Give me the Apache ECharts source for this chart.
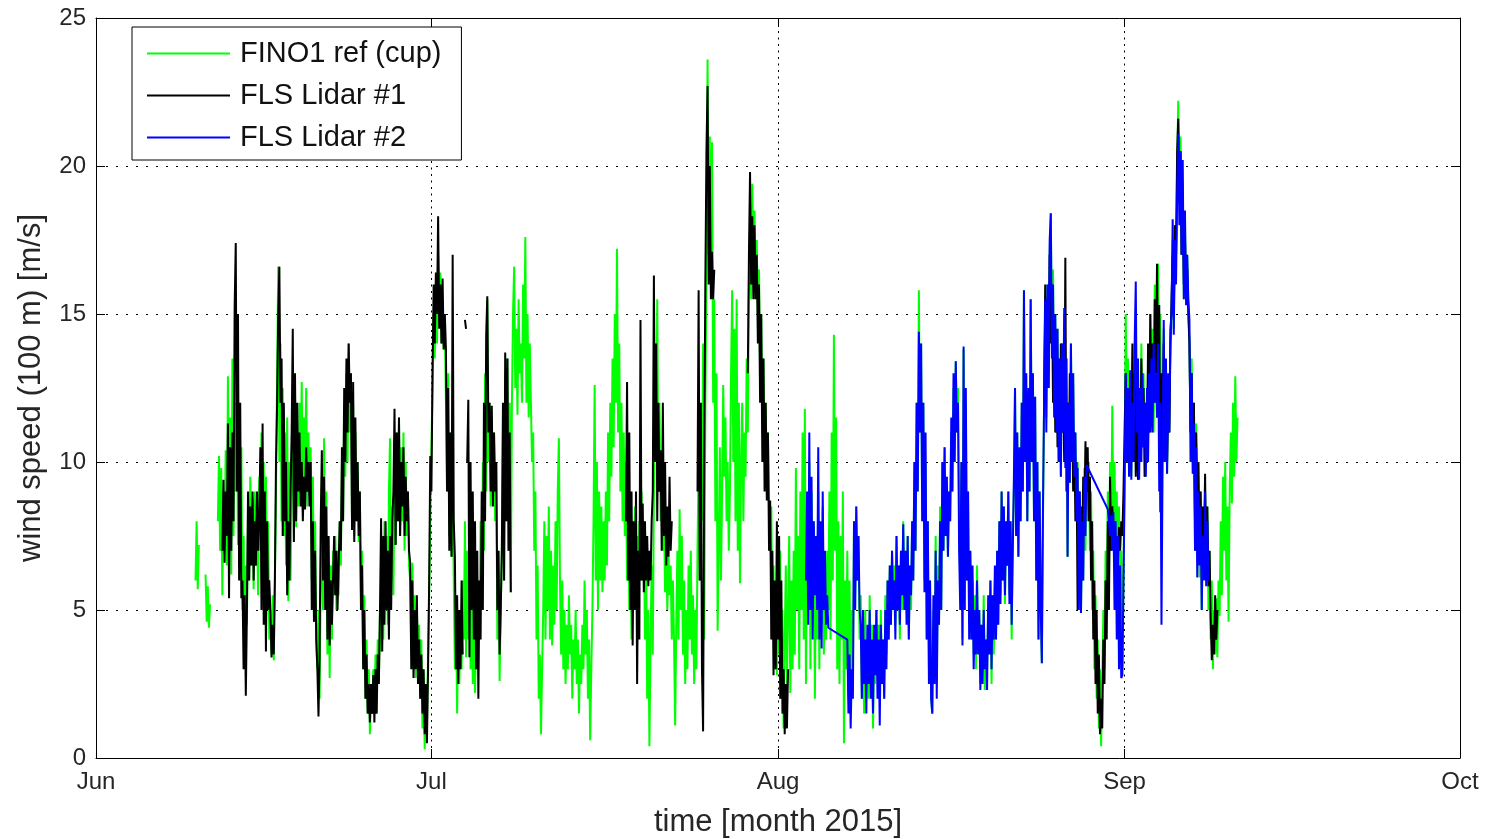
<!DOCTYPE html>
<html>
<head>
<meta charset="utf-8">
<script src="https://cdn.jsdelivr.net/npm/echarts@6/dist/echarts.min.js"></script>
<style>html,body{margin:0;padding:0;background:#fff;}#chart{width:1491px;height:839px;}</style>
</head>
<body>
<div id="chart"></div>
<script>
// x values are days since 1 June 2015 (sampled every 0.1 day inside each segment)
const monthTicks = [0, 30, 61, 92, 122];
const monthLabels = ['Jun', 'Jul', 'Aug', 'Sep', 'Oct'];
const yTicks = [0, 5, 10, 15, 20, 25];
const seriesNames = ['FINO1 ref (cup)', 'FLS Lidar #1', 'FLS Lidar #2'];

// FINO1 reference cup anemometer, wind speed at 100 m [m/s]
const fino1 = [
 [8.9,[6.0,8.0,5.7,7.2,null]],
 [9.8,[6.2,4.6,5.8,4.4,5.2,null]],
 [10.9,[8.0,10.2,7.0,9.8,5.5,9.0,7.2,10.4,6.5,12.9,8.0,11.5,6.2,13.5,7.5]],
 [12.4,[12.0,9.0,13.0,7.2,11.0,8.0,10.5,5.0,7.5,3.0,6.5,4.5]],
 [13.6,[8.5,6.0,9.5,6.5,8.8,5.7,9.0,6.5,8.0,5.5,9.5,7.0]],
 [14.8,[11.0,6.0,10.0,4.5,9.5,5.5,8.0,4.0]],
 [15.6,[5.0,3.5,5.5,3.3,6.0,9.0,13.0,16.6,10.0,14.0]],
 [16.6,[8.0,12.5,7.5,11.0,6.5,11.5,5.3,10.0,6.0]],
 [17.5,[9.0,13.0,8.0,12.5,7.8,11.0]],
 [18.1,[8.5,12.0,9.0,12.7,8.4,11.5,9.5,12.5,8.5,11.0,9.0,10.5]],
 [19.3,[6.0,9.5,4.6,8.0,4.0,3.0,5.0,2.0]],
 [20.1,[6.0,9.5,5.0,10.8,6.0,9.0,3.5,7.5,2.7,6.5,4.0,7.0]],
 [21.3,[5.5,7.5,5.0,7.0,5.5]],
 [21.8,[8.0,6.5,10.0,8.0,12.0,9.5,13.0,10.0,14.0,11.0,13.0,8.0]],
 [23.0,[12.0,7.5,11.0,8.0,10.0,7.3,9.0,5.5,7.0]],
 [23.9,[3.0,5.5,2.0,4.0,1.5,3.0,0.8,2.5,1.5,3.0,1.8,3.5,1.5,4.0,2.5,5.0]],
 [25.5,[3.6,7.0,4.0,8.0,5.0,7.5,4.5,9.0,10.8,6.0,8.5,5.5]],
 [26.7,[9.5,7.2,11.0,8.0,11.5,7.5,10.5,8.0,11.0,7.0,10.0,7.5,9.0,6.5]],
 [28.1,[6.0,3.5,6.6,3.0,5.5,2.7,5.0,3.5,4.5]],
 [29.0,[2.0,4.0,1.0,3.0,0.3,2.5,1.0,3.5,5.5,8.0,10.5]],
 [30.1,[12.5,15.0,13.5,16.0,14.0,17.0,15.0,16.4,14.0,15.5,13.8,14.5]],
 [31.3,[12.0,9.0,13.0,7.5,11.0,6.8,9.5]],
 [32.0,[6.0,3.0,5.5,1.5,4.5,2.5,5.0,3.0,6.0]],
 [32.9,[4.0,8.0,3.4,7.0,4.0,9.0,3.0,7.5]],
 [33.7,[2.5,5.0,2.2,4.5,3.0,6.0,4.0,8.0,5.0,10.0,7.0,13.0,9.0,15.5]],
 [35.1,[10.0,12.0,8.5,11.5,9.0,11.0,8.0,10.0,4.0,7.0,2.6,5.0]],
 [36.3,[7.0,11.0,6.0,13.0,8.0,13.5,7.0,12.0,5.6]],
 [37.2,[12.0,15.0,16.6,12.5,14.5,11.6,15.5,13.0,14.0,12.0,16.0,13.5,17.6,12.0,15.0,11.5,14.0,12.0]],
 [39.0,[10.0,11.0,7.0,9.0,4.0,6.5,2.0,3.5,0.8,3.0]],
 [40.0,[5.0,8.0,4.0,7.5,5.0,8.5,4.0,7.0,3.8,6.5,4.5,8.0,5.0,9.0,10.8,6.0]],
 [41.6,[3.5,6.0,3.0,5.0,2.5,4.5,3.0,5.5,3.5,4.5,2.0,4.0,3.0,5.0,2.5,4.0,1.5,3.5,2.5,4.5,3.0,6.0,3.5,5.0,2.0,4.0,0.6,3.0,5.0]],
 [44.5,[8.0,12.6,6.0,10.0,5.0,9.0]],
 [45.1,[6.0,8.5,5.6,8.0,6.0,9.0,6.5,11.0,8.0]],
 [46.0,[12.0,9.5,13.5,10.5,15.0,12.0,17.2,11.0,14.0,9.0]],
 [47.0,[12.0,8.0,11.0,7.5,10.0,6.0,9.0,5.0,8.0,4.0,7.0]],
 [48.1,[6.0,8.5,5.0,7.5,4.5,8.0,6.0,9.0]],
 [48.9,[6.0,8.0,4.0,7.0,2.0,5.0,0.4,4.0,6.5,3.5]],
 [49.9,[9.0,14.0,10.0,15.5,9.0,12.0]],
 [50.5,[8.0,10.0,7.0,8.4,5.6,7.5,5.0,7.0,5.5,6.5,4.0,6.0]],
 [51.7,[4.0,1.1,4.5,7.0,4.0,8.4,5.0,7.5,3.5,6.0,2.5,5.0,3.0,6.5,4.0,7.0,3.5,5.5,2.5,5.0,3.0]],
 [53.8,[7.0,10.0,6.0,11.0,8.0,14.0,4.0,12.0]],
 [54.6,[16.0,23.6,17.0,21.0,15.8,20.8,12.0,15.5,8.0,13.0,4.3]],
 [55.7,[7.0,10.5,6.0,9.0,12.6,9.5,11.5,8.0,10.0,7.0,9.0,13.0]],
 [56.9,[15.8,10.0,14.5,8.0,15.5,7.0,12.0,5.9,10.0]],
 [57.8,[12.0,8.0,11.0,9.5,13.5,11.0]],
 [58.4,[16.0,18.0,15.5,19.4,16.0,18.5,15.5,17.5,15.0,16.5]],
 [59.4,[13.0,15.0,11.0,13.5,10.0,12.0,9.0,11.0,8.7]],
 [60.3,[7.0,8.5,4.0,6.5,3.0,5.5,2.8]],
 [61.0,[6.0,3.5,7.0,2.0,5.0,1.0,4.0,6.5,2.5]],
 [61.9,[5.0,7.5,2.2,6.0,3.0,7.0,3.5,9.8,5.0,7.5,3.0]],
 [63.0,[9.0,5.0,11.0,4.0,11.8,2.5,8.5]],
 [63.7,[5.0,10.0,3.0,9.0,5.0,8.0,2.0,7.0]],
 [64.5,[4.0,9.0,3.0,7.0,4.5,8.5,3.5,6.0,4.0,7.0]],
 [65.5,[5.0,9.0,4.0,11.0,6.0,14.3,7.0,11.5,3.0,8.0,2.5,7.5,4.0,9.0,0.5,6.0,3.0]],
 [67.2,[7.0,2.0,6.0,1.5,5.0,3.0]],
 [67.8,[8.0,5.0,8.5,6.0,7.5,4.0]],
 [68.4,[5.5,2.0,4.5,1.5,5.0,2.5,4.0,2.0,5.5,3.0,4.5,1.0,4.0,2.5,5.0,3.0,4.5,2.5,5.0,3.0,4.0,2.0,5.5,3.5]],
 [70.8,[6.0,4.0,6.5,4.5,7.0,5.0,6.5,4.5,7.5,5.5,6.5,4.0,7.0,5.0,8.0,6.0,7.0,5.0,7.5,4.0,6.5]],
 [72.9,[5.0,8.0,6.0,10.0,7.0,12.0,9.0,15.8,11.0,14.0,8.0,12.0,6.0]],
 [74.2,[10.0,4.0,8.0,3.0,6.0,2.0,1.5,5.0,3.0,7.5,2.5,6.5,4.5,8.5,5.0,10.0]],
 [75.8,[7.0,10.5,7.5,9.5,6.8,9.0,8.0,11.0,9.0,12.5,10.0,13.4]],
 [77.0,[11.0,12.5,8.0,6.0,10.0,4.0,13.8,5.0,12.0,6.0,9.0,4.5]],
 [78.2,[7.0,4.0,6.0,3.5,5.5,3.0,6.5,4.0,5.0,2.5,4.5,3.0,5.5,2.3,4.0,3.0,5.0,4.0,6.0,2.5,5.5,3.5,6.0,4.0,7.0,4.5,8.0]],
 [80.9,[5.5,9.0,6.0,8.5,5.2,8.0,6.5,9.0,5.5,8.0,4.0,7.5]],
 [82.1,[9.0,12.5,7.5,11.0,6.8,10.0,8.0,12.0,9.0]],
 [83.0,[15.8,10.0,13.0,8.0,12.0,9.0,15.5,10.0,13.0]],
 [83.9,[8.0,12.2,6.0,10.0,4.0,9.0,5.0,3.2,8.0]],
 [84.8,[12.0,15.0,11.5,16.0,13.0,17.0,18.4,14.0,16.5,12.0,15.0,11.0]],
 [86.0,[14.5,10.0,13.5,9.5,14.0,11.0,15.0,10.0,13.5,6.8,12.0,9.3,14.0,10.0,13.0,9.5,11.0,8.0]],
 [87.8,[10.0,5.0,9.0,4.9,8.0,6.0,9.8,7.0,10.5]],
 [88.7,[8.0,10.0,7.0,9.0,5.0,7.0,3.0,5.5,2.0,4.0,1.0,3.0,0.4,2.5,5.0,3.0,7.0,5.0]],
 [90.5,[9.0,6.0,10.0,7.5,11.9,8.0,10.0,7.0,9.0,6.0,8.5,4.0,7.0,3.0]],
 [91.9,[6.0,10.0,15.0,12.0,13.5,10.0,12.5,9.5,13.0]],
 [92.8,[11.0,14.0,10.0,13.0,9.4,12.5,10.0,14.0,11.0,13.0,9.5,12.0,10.0,13.5,11.0,15.0]],
 [94.4,[12.0,14.5,11.0,16.0,12.0,15.0,16.7,13.0,15.0,9.0]],
 [95.4,[12.0,14.5,10.0,13.0,9.6,12.5,11.0,14.0]],
 [96.2,[15.0,17.5,14.5,18.0,17.0,20.0,22.2,19.0,21.0]],
 [97.1,[17.0,19.5,15.5,18.0,16.0,17.0,15.3]],
 [97.8,[14.0,11.0,13.5,9.6]],
 [98.2,[12.0,7.0,11.3,8.0,10.0,6.1,9.0,5.0,8.0]],
 [99.1,[7.0,9.0,6.0,8.5,5.0,7.0]],
 [99.7,[4.0,6.0,3.0,5.0,3.5,5.4,3.4]],
 [100.4,[6.0,4.8,8.0,5.5,9.5,7.0,10.0,6.0,8.5,4.6]],
 [101.4,[9.0,11.0,8.6,12.0,9.5,12.9,10.0,11.5]]
];

// FLS Lidar #1
const lidar1 = [
 [11.3,[7.0,9.4,6.6,9.0,7.5,11.3,5.4,10.5,7.0,11.0,8.0]],
 [12.4,[15.2,17.4,9.0,15.0,6.0,12.0,5.4]],
 [13.1,[6.0,3.0,5.5,2.1,5.0]],
 [13.6,[9.0,6.0,8.5,6.5,9.0,6.0,8.0,6.5,9.0,7.0,8.0]],
 [14.7,[10.5,5.0,11.3,4.5,9.0,3.6,8.0,5.0,6.0]],
 [15.6,[4.9,3.4,4.5,3.5]],
 [16.0,[6.0,10.0,12.0,15.0,16.6,12.0]],
 [16.6,[13.5,7.5,12.0,8.0,10.0,5.5]],
 [17.2,[8.0,6.0,9.0]],
 [17.5,[11.0,14.5,7.3,13.0,8.0,12.0]],
 [18.1,[9.0,11.0,8.5,10.0,8.0,9.5,8.4,10.5,9.0,10.0,8.5]],
 [19.2,[10.0,5.0,8.0,4.6,7.0,4.0]],
 [19.8,[3.0,1.4,3.5]],
 [20.1,[8.0,10.4,6.0,9.5,5.0,8.5,4.0,7.5,3.8,6.0,4.5]],
 [21.2,[6.0,7.5,5.5,7.0,5.0,6.5]],
 [21.8,[8.0,7.0,10.5,8.0,12.5,10.0,13.5,11.0,14.0,12.0,13.0,7.7]],
 [23.0,[12.7,7.3,11.5,8.0,10.0,7.5,9.0,5.0,6.5]],
 [23.9,[3.0,5.0,2.0,3.5,1.5,2.5,1.2,2.5,1.5,2.8,1.2,3.0,1.5,3.5,2.5]],
 [25.4,[5.0,8.1,3.6,7.5,4.5,8.0,5.0,7.0,4.0,7.5,5.0,8.0]],
 [26.6,[9.0,11.8,7.2,11.0,8.0,11.5,7.5,10.0,8.5,10.5,7.5,9.5,8.0,9.0,7.0]],
 [28.1,[6.6,3.0,6.0,2.7,5.0,3.0,5.5,2.5,4.0]],
 [29.0,[2.0,3.5,1.5,3.0,0.8,2.5,0.5,3.0,6.0,10.2,9.0]],
 [30.1,[13.0,16.0,14.0,16.4,15.0,18.3,14.5,16.0,14.0,16.2,13.8,15.0]],
 [31.3,[13.8,9.0,12.5,7.0,11.0,6.8,17.0,8.0]],
 [32.1,[6.8,3.0,5.5,2.5,5.0,3.0,6.0,3.5,null]],
 [33.0,[14.8,14.5,null]],
 [33.2,[10.0,12.1,3.4,10.0,5.0,9.0]],
 [33.8,[4.0,8.0,3.0,7.0,2.0,6.0,4.0,9.0,5.0,12.0,8.0,14.3,15.6]],
 [35.1,[11.0,12.0,9.0,11.9,8.5,11.0,9.0,10.0,5.0,7.0,3.5,5.0]],
 [36.3,[7.0,12.0,6.0,13.7,8.0,13.5,7.0,11.0,5.6,null]],
 [47.4,[8.0,12.7,6.0,11.0,5.0,9.0,3.8]],
 [48.1,[8.0,5.0,9.0,2.5,7.0,4.0,14.8,6.0]],
 [48.9,[8.6,5.6,8.0,6.0,7.5,5.8,7.0,6.0,8.0,9.0]],
 [49.9,[16.3,10.0,14.0,8.0,12.0,9.0]],
 [50.5,[10.4,7.0,12.0,7.5,10.0,6.5,8.5,6.8,9.5,7.0,8.0,null]],
 [53.8,[9.0,15.8,6.0,12.0,3.0,0.9,10.0,16.0]],
 [54.6,[20.5,22.7,16.0,20.0,15.5]],
 [55.1,[17.1,15.5,16.5,null]],
 [58.3,[13.0,17.0,19.8,16.0,18.3,15.5,18.0,15.5,17.0,14.0,16.0,12.0,15.0,10.0,13.5,9.0,12.0,8.7,11.0,7.0,8.7,4.0,7.0,2.8,6.0,3.0,8.0,4.0,7.5,2.0,6.0,1.5,3.0,0.8,2.5,1.0,3.0,null]],
 [84.8,[12.0,16.0,13.0,15.5,12.5,17.0,14.0,16.0,12.0,14.5,11.0,14.0]],
 [86.0,[10.5,13.0,10.0,14.0,11.0,13.0,10.0,16.9,9.0,12.0,9.5,13.0,10.0,12.5,9.0,11.0,8.0,10.0]],
 [87.8,[5.0,9.0,6.0,8.5,7.0,9.5,8.0,10.7,9.0]],
 [88.7,[10.5,8.0,9.5,6.0,8.0,4.0,6.0,2.5,5.0,1.5,3.5,0.8,2.0,1.0,4.0,2.5,6.0,4.0]],
 [90.5,[8.0,5.0,9.5,7.0,8.5,7.5,8.0,7.0,7.5,6.5,7.8,7.0,8.0,7.5]],
 [91.9,[9.0,11.0,13.0,10.5,12.0,10.0,13.0,11.0,14.0]],
 [92.8,[10.0,13.0,9.5,12.5,9.4,12.0,10.0,13.5,10.5,12.5,9.5,11.5,10.0,14.0,11.0,15.0]],
 [94.4,[11.5,14.0,12.0,15.5,13.0,16.7,12.0,15.3,8.3]],
 [95.3,[13.0,10.0,14.0,11.0,13.0,10.0,12.0,11.0,14.0]],
 [96.2,[15.5,17.0,15.0,18.0,17.0,20.5,21.6,19.0,20.5]],
 [97.1,[17.0,19.0,16.0,17.5,15.5,16.5,15.0]],
 [97.8,[14.0,11.0,13.0,10.0]],
 [98.2,[12.0,8.0,11.0,9.0,10.0,7.0,9.0,6.5,8.5]],
 [99.1,[7.0,9.6,6.0,8.5,5.8,7.0]],
 [99.7,[4.7,3.3,4.5,3.5,5.5,4.0,5.0]]
];

// FLS Lidar #2 (segments are joined directly, as in the original plot)
const lidar2 = [
 [63.5,[6.0,9.0,4.5,11.0,5.0,9.5,4.0,8.0,5.5,7.5]],
 [64.5,[5.0,10.5,4.0,8.0,3.7,9.0,5.0,7.0,4.5,5.5,4.4]],
 [67.2,[4.0,1.5,3.5,1.0,3.0,2.0]],
 [67.8,[8.0,5.0,8.5,6.0,7.5,5.0]],
 [68.4,[4.5,2.0,5.0,2.5,4.0,1.5,4.5,2.5,5.0,2.0,4.0,1.5,4.5,2.8,5.0,2.0,4.0,1.1,4.5,2.5,4.0,2.0,5.0,3.0]],
 [70.8,[6.0,4.0,6.5,4.5,7.0,5.0,6.0,4.0,7.5,5.0,6.5,4.5,7.0,5.5,7.9,5.0,7.0,4.5,7.5,4.0,6.5]],
 [72.9,[5.5,8.0,6.0,10.0,7.0,12.0,9.0,14.4,11.0,14.0,8.0,12.0,5.6]],
 [74.2,[11.0,4.0,8.0,2.5,6.0,2.0,1.5,5.5,2.5,7.0,2.0,6.0,4.5,8.0,5.0,10.0]],
 [75.8,[7.0,10.5,7.5,9.5,6.8,9.0,8.0,11.5,9.0,13.0,10.0,13.4]],
 [77.0,[11.0,12.0,7.0,5.0,10.0,3.8,13.9,5.0,12.5,6.0,9.0,4.0]],
 [78.2,[7.0,4.0,6.5,3.0,5.0,3.5,6.0,3.5,5.0,2.3,4.5,2.5,5.0,3.0,4.0,2.3,5.5,3.5,6.0,3.0,5.5,4.0,6.5,4.0,7.0,4.5,8.0]],
 [80.9,[5.2,9.0,6.0,8.5,5.5,8.0,6.5,9.0,5.2,8.0,4.5,7.0]],
 [82.1,[9.5,12.5,7.5,11.0,6.8,10.5,8.0,12.0,9.0]],
 [83.0,[15.8,10.0,13.0,8.0,12.5,9.0,15.5,10.0,13.0]],
 [83.9,[8.0,12.2,6.0,10.0,4.0,9.0,5.0,3.2,8.5]],
 [84.8,[12.0,15.5,11.0,16.0,12.5,17.5,18.4,13.5,16.0,11.5,15.0,11.0]],
 [86.0,[14.5,10.0,13.5,9.5,14.0,11.0,15.2,9.8,13.5,6.8,12.0,9.3,14.0,10.0,13.0,9.5,11.0,8.0]],
 [87.8,[9.8,5.0,9.0,4.9,8.0,6.0,9.5,7.5,9.9]],
 [90.5,[8.4,8.0,7.5,8.2,7.0,8.3,5.0,8.0,4.0,7.5,3.0,6.5,2.7,2.8]],
 [91.9,[2.8,9.0,13.0,10.0,12.5,9.5,13.1,9.4,12.0]],
 [92.8,[10.0,14.0,16.1,11.0,13.5,9.4,12.5,10.0,13.0,10.5,12.0,9.5,12.5,10.0,13.0,11.0]],
 [94.4,[13.5,11.0,14.0,12.0,13.0,11.5,14.0,9.0,12.0,4.5,10.0]],
 [95.5,[14.8,10.0,13.5,9.6,13.0,11.0,14.5]],
 [96.2,[15.0,18.2,14.3,17.5,16.0,19.0,21.1,18.0,20.5]],
 [97.1,[17.0,20.2,15.5,18.5,15.3,17.0,15.5]],
 [97.8,[14.8,10.0,13.0,9.6]],
 [98.2,[11.3,7.0,10.5,6.1,9.0,6.5,8.5,5.0,7.5]],
 [99.1,[6.0,9.0,5.8,8.0,6.0]]
];

function build(segs) {
  const out = [];
  segs.forEach(function (seg) {
    const start = seg[0];
    seg[1].forEach(function (v, i) {
      out.push([Math.round((start + i * 0.1) * 100) / 100, v === null ? '-' : v]);
    });
  });
  return out;
}

const FONT = '"Liberation Sans", Arial, Helvetica, sans-serif';
const chart = echarts.init(document.getElementById('chart'), null, {renderer: 'canvas'});

const baseX = {
  type: 'value', min: 0, max: 122,
  axisLine: {show: true, onZero: false, lineStyle: {color: '#000', width: 1}},
  axisTick: {show: true, inside: true, length: 9, customValues: monthTicks, lineStyle: {color: '#000'}},
  splitLine: {show: false}
};
const baseY = {
  type: 'value', min: yTicks[0], max: yTicks[yTicks.length - 1], interval: 5,
  axisLine: {show: true, onZero: false, lineStyle: {color: '#000', width: 1}},
  axisTick: {show: true, inside: true, length: 9, lineStyle: {color: '#000'}},
  splitLine: {show: false}
};

chart.setOption({
  animation: false,
  backgroundColor: '#fff',
  grid: {left: 96, right: 31, top: 18, bottom: 81, containLabel: false, outerBoundsMode: 'none'},
  legend: {
    orient: 'vertical', left: 132, top: 27,
    padding: [12, 20, 8, 15], itemGap: 13, itemWidth: 83, itemHeight: 2,
    icon: 'rect',
    backgroundColor: '#fff', borderColor: '#000', borderWidth: 1, borderRadius: 0,
    textStyle: {fontSize: 29, lineHeight: 28, color: '#111', fontFamily: FONT, padding: [0, 0, 0, 5]},
    data: seriesNames
  },
  xAxis: [
    Object.assign({}, baseX, {
      position: 'bottom',
      axisLabel: {show: true, customValues: monthTicks, margin: 12, fontSize: 24, color: '#262626', fontFamily: FONT,
        formatter: function (v) { const k = monthTicks.indexOf(Math.round(v)); return k >= 0 ? monthLabels[k] : ''; }},
      splitLine: {show: true, lineStyle: {color: '#000', type: [2, 4.5], width: 1}},
      name: 'time [month 2015]', nameLocation: 'middle', nameGap: 49,
      nameTextStyle: {fontSize: 31, color: '#262626', fontFamily: FONT}
    }),
    Object.assign({}, baseX, {position: 'top', axisLabel: {show: false}})
  ],
  yAxis: [
    Object.assign({}, baseY, {
      position: 'left',
      axisLabel: {show: true, margin: 10, fontSize: 24, color: '#262626', fontFamily: FONT},
      splitLine: {show: true, lineStyle: {color: '#000', type: [2, 8], width: 1}},
      name: 'wind speed (100 m) [m/s]', nameLocation: 'middle', nameGap: 49, nameRotate: 90,
      nameTextStyle: {fontSize: 31, color: '#262626', fontFamily: FONT}
    }),
    Object.assign({}, baseY, {position: 'right', axisLabel: {show: false}})
  ],
  series: [
    {name: seriesNames[0], type: 'line', data: build(fino1), symbol: 'none', showSymbol: false, connectNulls: false,
     lineStyle: {color: '#00ff00', width: 2}, itemStyle: {color: '#00ff00'}, z: 2},
    {name: seriesNames[1], type: 'line', data: build(lidar1), symbol: 'none', showSymbol: false, connectNulls: false,
     lineStyle: {color: '#000000', width: 2}, itemStyle: {color: '#000000'}, z: 3},
    {name: seriesNames[2], type: 'line', data: build(lidar2), symbol: 'none', showSymbol: false, connectNulls: false,
     lineStyle: {color: '#0000ff', width: 2}, itemStyle: {color: '#0000ff'}, z: 4}
  ]
});
</script>
</body>
</html>
